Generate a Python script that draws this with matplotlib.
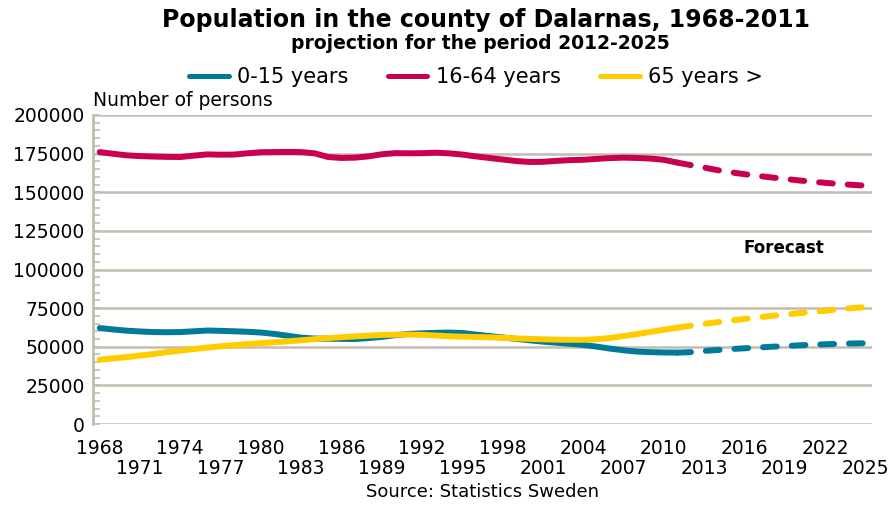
import numpy as np
import matplotlib
matplotlib.use('Agg')
import matplotlib.pyplot as plt
from matplotlib.lines import Line2D
from matplotlib.ticker import MultipleLocator, FixedLocator

# observed 1968-2011
years = list(range(1968, 2012))
age_0_15 = [62100, 61200, 60400, 59900, 59500, 59400, 59500, 60000, 60500, 60300,
            60000, 59700, 59200, 58300, 57100, 55900, 55300, 55200, 55100, 55000,
            55600, 56400, 57500, 58300, 58700, 59000, 59200, 58900, 57900, 56900,
            56000, 55100, 54200, 53300, 52600, 51900, 51200, 50100, 48800, 47700,
            46900, 46500, 46300, 46200]
age_16_64 = [176000, 174900, 173900, 173400, 173100, 172900, 172800, 173700, 174500, 174300,
             174400, 175200, 175900, 176000, 176100, 176000, 175200, 172800, 172200, 172400,
             173200, 174600, 175300, 175200, 175300, 175600, 175200, 174400, 173200, 172200,
             171200, 170200, 169600, 169700, 170300, 170800, 171000, 171600, 172100, 172400,
             172200, 171800, 171000, 169200]
age_65 = [41600, 42500, 43300, 44300, 45300, 46500, 47500, 48500, 49500, 50300,
          51000, 51700, 52300, 52900, 53500, 54200, 54900, 55600, 56200, 56700,
          57200, 57600, 57800, 57900, 57700, 57300, 56800, 56500, 56300, 56100,
          55800, 55400, 55100, 54800, 54600, 54500, 54500, 54900, 55700, 56900,
          58200, 59600, 61000, 62300]

# projection 2011-2025
years_fc = list(range(2011, 2026))
age_0_15_fc = [46200, 46500, 47300, 47900, 48500, 49000, 49500, 50000, 50400, 50900,
               51300, 51600, 51900, 52100, 52300]
age_16_64_fc = [169200, 167600, 166000, 164300, 162900, 161700, 160600, 159600, 158700, 157700,
                156900, 156100, 155400, 154800, 154300]
age_65_fc = [62300, 63600, 64800, 65900, 67000, 68000, 69000, 70000, 70800, 71700,
             72600, 73300, 74300, 75000, 75600]

labels = ['0-15 years', '16-64 years', '65 years >']
colors = ['#007a99', '#c8004e', '#ffcc00']
grid_col = '#c4bcb0'

fig = plt.figure(figsize=(8.94, 5.05), dpi=100)
ax = fig.add_axes([93/894, 1-424/505, (872-93)/894, (424-115)/505])

lw = 4.3
for obs, fc, c in zip([age_0_15, age_16_64, age_65], [age_0_15_fc, age_16_64_fc, age_65_fc], colors):
    ax.plot(years, obs, color=c, lw=lw, solid_capstyle='round', solid_joinstyle='round', zorder=3)
    ax.plot(years_fc, fc, color=c, lw=lw, dashes=(2.3, 2.5), dash_capstyle='round', zorder=3)

ax.set_xlim(1967.5, 2025.5)
ax.set_ylim(0, 200000)

ax.yaxis.set_major_locator(MultipleLocator(25000))
ax.yaxis.set_minor_locator(MultipleLocator(5000))
ax.grid(axis='y', which='major', color=grid_col, lw=1.8, zorder=1)
ax.set_axisbelow(True)

for s in ['top', 'right', 'bottom']:
    ax.spines[s].set_visible(False)
ax.spines['left'].set_color(grid_col)
ax.spines['left'].set_linewidth(2)

ax.tick_params(axis='y', which='both', direction='in', length=5, width=1.2, color=grid_col,
               labelsize=13.5, pad=6)
ax.set_yticklabels([str(int(v)) for v in ax.get_yticks()])

# two staggered rows of year labels
upper = list(range(1968, 2026, 6))
lower = list(range(1971, 2026, 6))
ax.xaxis.set_major_locator(FixedLocator(upper))
ax.xaxis.set_minor_locator(FixedLocator(lower))
ax.set_xticklabels([str(y) for y in upper])
ax.set_xticklabels([str(y) for y in lower], minor=True)
ax.tick_params(axis='x', which='major', length=0, labelsize=13.5, pad=11)
ax.tick_params(axis='x', which='minor', length=0, labelsize=13.5, pad=25)

fig.text(486/894, 1-27/505, 'Population in the county of Dalarnas, 1968-2011',
         ha='center', va='baseline', fontsize=17, fontweight='bold')
fig.text(480/894, 1-49/505, 'projection for the period 2012-2025',
         ha='center', va='baseline', fontsize=13.5, fontweight='bold')
fig.text(93/894, 1-106.5/505, 'Number of persons', ha='left', va='baseline', fontsize=13.5)
fig.text(784/894, 1-248/505, 'Forecast', ha='center', va='center', fontsize=12, fontweight='bold')
fig.text(482/894, 1-492/505, 'Source: Statistics Sweden', ha='center', va='center', fontsize=13)

handles = [Line2D([0], [0], color=c, lw=3.6, solid_capstyle='round') for c in colors]
fig.legend(handles, labels, loc='center', bbox_to_anchor=(476/894, 1-77/505), ncol=3,
           frameon=False, fontsize=15, handlelength=1.9, handletextpad=0.4, columnspacing=1.9)

fig.savefig('out.png', dpi=100)
